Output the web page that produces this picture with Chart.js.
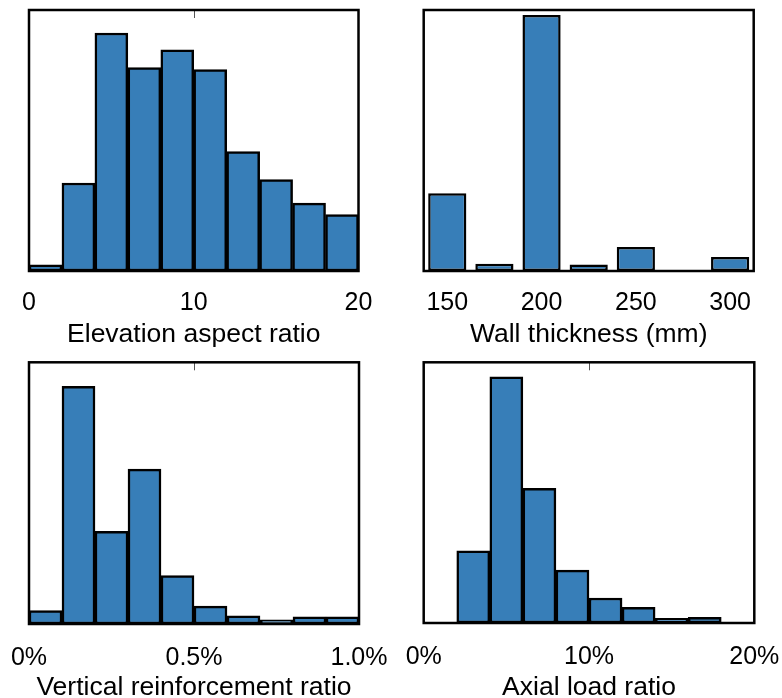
<!DOCTYPE html>
<html lang="en">
<head>
    <meta charset="UTF-8">
    <title>Wall database histograms</title>
    <script src="https://cdn.jsdelivr.net/npm/chart.js"></script>
    <style>
        body {
            margin: 0;
            background: #fff;
            overflow: hidden;
        }

        .panel {
            position: absolute;
        }
    </style>
</head>
<body>
<div class="panel" style="left: 0; top: 0;"><canvas id="chart1" width="391" height="351"></canvas></div>
<div class="panel" style="left: 391px; top: 0;"><canvas id="chart2" width="391" height="351"></canvas></div>
<div class="panel" style="left: 0; top: 349px;"><canvas id="chart3" width="391" height="360"></canvas></div>
<div class="panel" style="left: 391px; top: 349px;"><canvas id="chart4" width="391" height="360"></canvas></div>

<script>
    // Elevation aspect ratio (bin centres, relative frequency, % of frame height)
    const aspectBins = [1, 3, 5, 7, 9, 11, 13, 15, 17, 19];
    const aspectCounts = [2.4, 33.7, 91.2, 77.9, 84.7, 77.2, 45.8, 35.0, 26.0, 21.6];
    const aspectTicks = [0, 10, 20];

    // Wall thickness (mm)
    const thicknessBins = [150, 175, 200, 225, 250, 275, 300];
    const thicknessCounts = [29.8, 2.8, 98.1, 2.5, 9.2, 0, 5.4];
    const thicknessTicks = [150, 200, 250, 300];

    // Vertical reinforcement ratio (%)
    const rhoBins = [0.05, 0.15, 0.25, 0.35, 0.45, 0.55, 0.65, 0.75, 0.85, 0.95];
    const rhoCounts = [5.1, 90.8, 35.4, 59.2, 18.5, 6.8, 3.1, 1.6, 2.7, 2.7];
    const rhoTicks = [0, 0.5, 1.0];
    const rhoTickLabels = ['0%', '0.5%', '1.0%'];

    // Axial load ratio (%)
    const alrBins = [1, 3, 5, 7, 9, 11, 13, 15, 17, 19];
    const alrCounts = [0, 27.7, 94.4, 51.7, 20.3, 9.6, 6.0, 1.8, 2.2, 0];
    const alrTicks = [0, 10, 20];
    const alrTickLabels = ['0%', '10%', '20%'];

    const BAR_COLOR = '#377eb8';
    const FONT = '"Liberation Sans", Arial, sans-serif';

    // frame round the plot area + the little tick at the top
    const framePlugin = {
        id: 'frame',
        afterDraw(chart, args, opts) {
            const a = chart.chartArea;
            const ctx = chart.ctx;
            ctx.save();
            if (opts.topTick !== null && opts.topTick !== undefined) {
                const x = Math.round(chart.scales.x.getPixelForValue(opts.topTick)) + 0.5;
                ctx.strokeStyle = '#555';
                ctx.lineWidth = 1;
                ctx.beginPath();
                ctx.moveTo(x, a.top);
                ctx.lineTo(x, a.top + 8);
                ctx.stroke();
            }
            ctx.strokeStyle = '#000';
            ctx.lineWidth = 2.5;
            ctx.strokeRect(a.left, a.top, a.right - a.left, a.bottom - a.top);
            ctx.restore();
        }
    };

    function makeHist(cfg) {
        const ctx = document.getElementById(cfg.id).getContext('2d');
        return new Chart(ctx, {
            type: 'bar',
            data: {
                datasets: [{
                    data: cfg.bins.map((b, i) => ({x: b, y: cfg.counts[i]})),
                    backgroundColor: BAR_COLOR,
                    borderColor: '#000',
                    borderWidth: 2.5,
                    borderSkipped: false,
                    barPercentage: cfg.barPct,
                    categoryPercentage: 1
                }]
            },
            plugins: [framePlugin],
            options: {
                responsive: false,
                animation: false,
                devicePixelRatio: 1,
                layout: {
                    padding: {left: cfg.pad[0], right: cfg.pad[1], top: cfg.pad[2], bottom: 0}
                },
                plugins: {
                    legend: {display: false},
                    tooltip: {enabled: false},
                    frame: {topTick: cfg.topTick}
                },
                scales: {
                    x: {
                        type: 'linear',
                        offset: false,
                        min: cfg.min,
                        max: cfg.max,
                        grid: {display: false, drawTicks: false},
                        border: {display: false},
                        afterBuildTicks: axis => {
                            axis.ticks = cfg.ticks.map(v => ({value: v}));
                        },
                        afterFit: axis => {
                            axis.height = cfg.axisH;
                            axis.paddingLeft = 0;
                            axis.paddingRight = 0;
                        },
                        ticks: {
                            autoSkip: false,
                            maxRotation: 0,
                            padding: cfg.tickPad,
                            color: '#000',
                            font: {family: FONT, size: 25},
                            callback: (value, i) => cfg.tickLabels ? cfg.tickLabels[i] : String(value)
                        },
                        title: {
                            display: true,
                            text: cfg.title,
                            color: '#000',
                            font: {family: FONT, size: 26.5},
                            padding: {top: 0, bottom: cfg.titlePad}
                        }
                    },
                    y: {
                        display: false,
                        min: 0,
                        max: 100
                    }
                }
            }
        });
    }

    makeHist({
        id: 'chart1', bins: aspectBins, counts: aspectCounts, ticks: aspectTicks,
        min: 0, max: 20, barPct: 1, title: 'Elevation aspect ratio',
        pad: [29, 32.5, 10], axisH: 80, tickPad: 17, titlePad: 0, topTick: 10
    });
    makeHist({
        id: 'chart2', bins: thicknessBins, counts: thicknessCounts, ticks: thicknessTicks,
        min: 137.5, max: 312.5, barPct: 0.81, title: 'Wall thickness (mm)',
        pad: [32.7, 28.3, 10], axisH: 80, tickPad: 17, titlePad: 0, topTick: null
    });
    makeHist({
        id: 'chart3', bins: rhoBins, counts: rhoCounts, ticks: rhoTicks, tickLabels: rhoTickLabels,
        min: 0, max: 1, barPct: 1, title: 'Vertical reinforcement ratio',
        pad: [29, 32, 13.3], axisH: 85, tickPad: 19, titlePad: 5, topTick: 0.5
    });
    makeHist({
        id: 'chart4', bins: alrBins, counts: alrCounts, ticks: alrTicks, tickLabels: alrTickLabels,
        min: 0, max: 20, barPct: 1, title: 'Axial load ratio',
        pad: [32.7, 27.7, 13.3], axisH: 86, tickPad: 19, titlePad: 5, topTick: 10
    });
</script>

</body>
</html>
